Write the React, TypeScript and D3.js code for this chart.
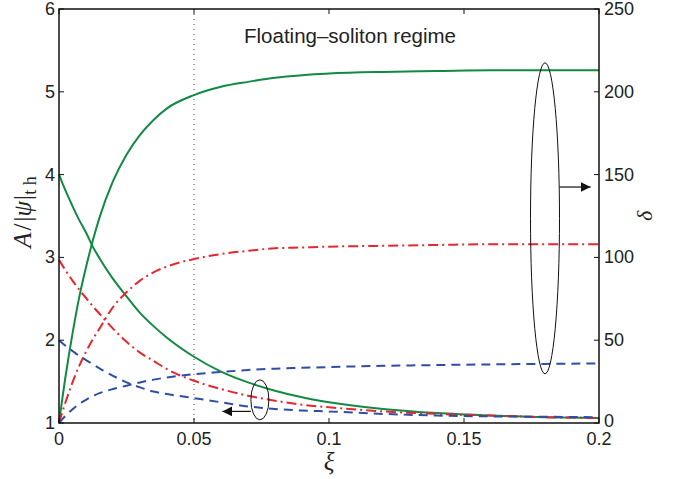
import React from 'react';
import * as d3 from 'd3';

// xi sample points shared by all curves
const xi = [0, 0.0025, 0.005, 0.0075, 0.01, 0.0125, 0.015, 0.02, 0.025, 0.03, 0.035, 0.04, 0.05, 0.06, 0.07, 0.08, 0.09, 0.1, 0.12, 0.14, 0.16, 0.18, 0.2];

// left axis: A / |psi|_th (decaying curves)
const ampGreen = [4.0, 3.8, 3.62, 3.45, 3.3, 3.13, 2.99, 2.74, 2.53, 2.33, 2.17, 2.03, 1.8, 1.62, 1.49, 1.39, 1.31, 1.25, 1.17, 1.12, 1.09, 1.07, 1.06];
const ampRed = [2.97, 2.84, 2.72, 2.61, 2.51, 2.41, 2.32, 2.14, 1.98, 1.85, 1.75, 1.65, 1.51, 1.41, 1.33, 1.27, 1.22, 1.19, 1.14, 1.11, 1.09, 1.07, 1.06];
const ampBlue = [2.0, 1.93, 1.87, 1.81, 1.76, 1.71, 1.66, 1.57, 1.49, 1.43, 1.38, 1.35, 1.3, 1.25, 1.2, 1.17, 1.15, 1.14, 1.11, 1.09, 1.08, 1.075, 1.07];

// right axis: delta (saturating curves)
const deltaGreen = [0, 29, 54, 76, 94, 110, 124, 146, 162, 174, 183, 190, 198, 203, 206, 208.5, 210, 211, 212, 212.5, 213, 213, 213];
const deltaRed = [0, 13, 24.5, 34.5, 43, 50.5, 57, 70, 79, 86, 91, 94.5, 99, 102, 104, 105.5, 106, 106.5, 107, 107.5, 108, 108, 108];
const deltaBlue = [0, 4.5, 8.3, 11.5, 14, 16.2, 18, 20.5, 22.5, 24.5, 26.2, 27.5, 29.5, 30.8, 32, 32.8, 33.3, 33.8, 34.5, 35, 35.4, 35.7, 36];

const xTicks = [0, 0.05, 0.1, 0.15, 0.2];
const leftTicks = [1, 2, 3, 4, 5, 6];
const rightTicks = [0, 50, 100, 150, 200, 250];

const W = 680;
const H = 479;
const margin = { top: 9, right: 81, bottom: 56, left: 59 };

const GREEN = '#128a43';
const RED = '#e8262d';
const BLUE = '#2e4ea6';
const DASH = '9,6';
const DASHDOT = '10,4,2,4';

const App = () => {
  const x = d3.scaleLinear().domain([0, 0.2]).range([margin.left, W - margin.right]);
  const yL = d3.scaleLinear().domain([1, 6]).range([H - margin.bottom, margin.top]);
  const yR = d3.scaleLinear().domain([0, 250]).range([H - margin.bottom, margin.top]);

  const lineL = d3
    .line<number>()
    .x((d, i) => x(xi[i]))
    .y(d => yL(d))
    .curve(d3.curveMonotoneX);
  const lineR = d3
    .line<number>()
    .x((d, i) => x(xi[i]))
    .y(d => yR(d))
    .curve(d3.curveMonotoneX);

  const x0 = margin.left;
  const x1 = W - margin.right;
  const y0 = H - margin.bottom;
  const y1 = margin.top;
  const tick = 5;
  const tickFont = { fontFamily: 'Liberation Sans, Arial, sans-serif', fontSize: 18, fill: '#222' };

  // annotations (ellipses + arrows) placed in data units
  const smallC = { cx: x(0.0744), cy: yL(1.28), rx: 9, ry: 20 };
  const bigC = { cx: x(0.18), cy: yR(123.6), rx: 14.5, ry: 155.5 };
  const bigArrowY = yR(142.5);
  const smallArrowY = yL(1.14);

  return (
    <svg width={W} height={H} style={{ position: 'absolute', left: 0, top: 0, background: '#fff' }}>
      <defs>
        <marker id="ah" viewBox="0 0 10 10" refX="10" refY="5" markerWidth="10" markerHeight="10" markerUnits="userSpaceOnUse" orient="auto">
          <path d="M0,0 L10,5 L0,10 Z" fill="#111" />
        </marker>
      </defs>

      <line x1={x(0.05)} x2={x(0.05)} y1={y1} y2={y0} stroke="#444" strokeWidth={1} strokeDasharray="1,4" />

      <path d={lineL(ampGreen) || ''} fill="none" stroke={GREEN} strokeWidth={2} />
      <path d={lineR(deltaGreen) || ''} fill="none" stroke={GREEN} strokeWidth={2} />
      <path d={lineL(ampRed) || ''} fill="none" stroke={RED} strokeWidth={2} strokeDasharray={DASHDOT} />
      <path d={lineR(deltaRed) || ''} fill="none" stroke={RED} strokeWidth={2} strokeDasharray={DASHDOT} />
      <path d={lineL(ampBlue) || ''} fill="none" stroke={BLUE} strokeWidth={2} strokeDasharray={DASH} />
      <path d={lineR(deltaBlue) || ''} fill="none" stroke={BLUE} strokeWidth={2} strokeDasharray={DASH} />

      <ellipse cx={smallC.cx} cy={smallC.cy} rx={smallC.rx} ry={smallC.ry} fill="none" stroke="#111" strokeWidth={1} />
      <line x1={smallC.cx - smallC.rx} x2={x(0.0605)} y1={smallArrowY} y2={smallArrowY} stroke="#111" strokeWidth={1.2} markerEnd="url(#ah)" />
      <ellipse cx={bigC.cx} cy={bigC.cy} rx={bigC.rx} ry={bigC.ry} fill="none" stroke="#111" strokeWidth={1} />
      <line x1={bigC.cx + bigC.rx} x2={x(0.1969)} y1={bigArrowY} y2={bigArrowY} stroke="#111" strokeWidth={1.2} markerEnd="url(#ah)" />

      {/* box */}
      <rect x={x0} y={y1} width={x1 - x0} height={y0 - y1} fill="none" stroke="#111" strokeWidth={1.5} />

      {xTicks.map(t => (
        <g key={'x' + t}>
          <line x1={x(t)} x2={x(t)} y1={y0} y2={y0 - tick} stroke="#111" />
          <line x1={x(t)} x2={x(t)} y1={y1} y2={y1 + tick} stroke="#111" />
          <text x={x(t)} y={y0 + 22} textAnchor="middle" {...tickFont}>{t}</text>
        </g>
      ))}
      {leftTicks.map(t => (
        <g key={'l' + t}>
          <line x1={x0} x2={x0 + tick} y1={yL(t)} y2={yL(t)} stroke="#111" />
          <text x={x0 - 4} y={yL(t) + 6} textAnchor="end" {...tickFont}>{t}</text>
        </g>
      ))}
      {rightTicks.map(t => (
        <g key={'r' + t}>
          <line x1={x1} x2={x1 - tick} y1={yR(t)} y2={yR(t)} stroke="#111" />
          <text x={x1 + 5} y={yR(t) + (t === 0 ? 4 : 6)} textAnchor="start" {...tickFont}>{t}</text>
        </g>
      ))}

      <text x={350} y={43} textAnchor="middle" fontFamily="Liberation Sans, Arial, sans-serif" fontSize={20.5} fill="#222">
        Floating–soliton regime
      </text>

      <text x={x(0.1)} y={470} textAnchor="middle" fontFamily="Liberation Serif, serif" fontStyle="italic" fontSize={25} fill="#222">ξ</text>
      <text transform={`translate(652,${(y0 + y1) / 2}) rotate(-90)`} textAnchor="middle" fontFamily="Liberation Serif, serif" fontStyle="italic" fontSize={22} fill="#222">δ</text>
      <text transform={`translate(31,212) rotate(-90)`} textAnchor="middle" fontFamily="Liberation Serif, serif" fontSize={25} fill="#222">
        <tspan fontStyle="italic">A</tspan>
        <tspan dx={2}>/</tspan>
        <tspan dx={2}>|</tspan>
        <tspan fontStyle="italic">ψ</tspan>
        <tspan dx={1}>|</tspan>
        <tspan fontSize={18} dy={5}>t h</tspan>
      </text>
    </svg>
  );
};

export default App;
